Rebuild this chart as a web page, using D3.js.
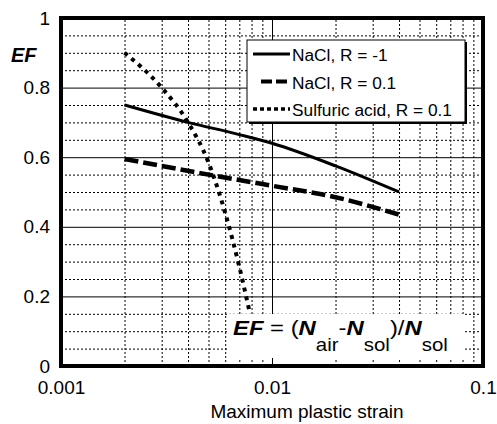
<!DOCTYPE html>
<html>
<head>
<meta charset="utf-8">
<script src="https://cdnjs.cloudflare.com/ajax/libs/d3/7.8.5/d3.min.js"></script>
<style>
  body { margin: 0; background: #fff; }
  text { font-family: "Liberation Sans", Arial, sans-serif; fill: #000; }
</style>
</head>
<body>
<div id="chart"></div>
<script>
// series
var strainNaclA = [0.002, 0.004, 0.007, 0.01, 0.02, 0.04];
var efNaclA     = [0.75, 0.70, 0.665, 0.64, 0.575, 0.50];
var strainNaclB = [0.002, 0.005, 0.01, 0.02, 0.04];
var efNaclB     = [0.595, 0.55, 0.518, 0.485, 0.435];
var strainAcid  = [0.002, 0.003, 0.004, 0.005, 0.006, 0.007, 0.0078];
var efAcid      = [0.90, 0.80, 0.70, 0.585, 0.44, 0.285, 0.16];

var legendNames = ["NaCl, R = -1", "NaCl, R = 0.1", "Sulfuric acid, R = 0.1"];
var xTickValues = [0.001, 0.01, 0.1];
var xTickLabels = ["0.001", "0.01", "0.1"];
var yTickValues = [0, 0.2, 0.4, 0.6, 0.8, 1];
var yTickLabels = ["0", "0.2", "0.4", "0.6", "0.8", "1"];

var w = 497, h = 424,
    marginLeft = 61, marginTop = 18, marginRight = 14, marginBottom = 58,
    cw = w - marginLeft - marginRight, ch = h - marginTop - marginBottom;

var svg = d3.select("#chart").append("svg")
    .attr("width", w).attr("height", h);
var g = svg.append("g")
    .attr("transform", "translate(" + marginLeft + "," + marginTop + ")");

var xScale = d3.scaleLog().domain([0.001, 0.1]).range([0, cw]);
var yScale = d3.scaleLinear().domain([0, 1]).range([ch, 0]);

// minor grid
var xMinor = [];
[0.001, 0.01].forEach(function(d) {
  for (var k = 2; k <= 9; k++) xMinor.push(d * k);
});
var yMinor = d3.range(1, 20).filter(function(k) { return k % 4 != 0; })
    .map(function(k) { return k * 0.05; });

function dotted(s) {
  s.select(".domain").remove();
  s.selectAll("line").attr("stroke", "#000").attr("stroke-width", 1).attr("stroke-dasharray", "2,2");
}
function solid(s) {
  s.select(".domain").remove();
  s.selectAll("line").attr("stroke", "#000").attr("stroke-width", 1);
}

g.append("g")
    .attr("transform", "translate(0," + ch + ")")
    .call(d3.axisBottom(xScale).tickValues(xMinor).tickSize(-ch).tickFormat(""))
    .call(dotted);
g.append("g")
    .call(d3.axisLeft(yScale).tickValues(yMinor).tickSize(-cw).tickFormat(""))
    .call(dotted);

// major grid
g.append("g")
    .attr("transform", "translate(0," + ch + ")")
    .call(d3.axisBottom(xScale).tickValues([0.01]).tickSize(-ch).tickFormat(""))
    .call(solid);
g.append("g")
    .call(d3.axisLeft(yScale).tickValues([0.2, 0.4, 0.6, 0.8]).tickSize(-cw).tickFormat(""))
    .call(solid);

// series
var line = d3.line()
    .x(function(d) { return xScale(d[0]); })
    .y(function(d) { return yScale(d[1]); })
    .curve(d3.curveMonotoneX);

var series = [
  { x: strainNaclA, y: efNaclA, dash: null, width: 3 },
  { x: strainNaclB, y: efNaclB, dash: "14,5", width: 4.5 },
  { x: strainAcid,  y: efAcid,  dash: "4,5", width: 4 }
];

series.forEach(function(s) {
  var pts = d3.zip(s.x, s.y);
  g.append("path")
      .datum(pts)
      .attr("d", line)
      .attr("fill", "none")
      .attr("stroke", "#000")
      .attr("stroke-width", s.width)
      .attr("stroke-dasharray", s.dash);
});

// formula box
g.append("rect")
    .attr("x", 167).attr("y", 296)
    .attr("width", 237).attr("height", 44)
    .attr("fill", "#fff");
var fx0 = 172;
var formula = g.append("text")
    .attr("x", fx0).attr("y", 317)
    .attr("font-size", 21);
var parts = [
  { t: "EF", b: true, i: true },
  { t: " = (" },
  { t: "N", b: true, i: true },
  { t: "air", sub: true },
  { t: "-" },
  { t: "N", b: true, i: true },
  { t: "sol", sub: true },
  { t: ")/" },
  { t: "N", b: true, i: true },
  { t: "sol", sub: true }
];
var down = false;
parts.forEach(function(p) {
  var ts = formula.append("tspan").text(p.t);
  if (p.b) ts.attr("font-weight", "bold");
  if (p.i) ts.attr("font-style", "italic");
  if (p.sub) { ts.attr("font-size", 18).attr("dy", 16); down = true; }
  else if (down) { ts.attr("dy", -16); down = false; }
});
var fw = formula.node().getComputedTextLength();
var sx = 215 / fw;
formula.attr("transform", "translate(" + fx0 + ",0) scale(" + sx + ",1) translate(" + (-fx0) + ",0)");

// frame
g.append("rect")
    .attr("width", cw).attr("height", ch)
    .attr("fill", "none").attr("stroke", "#000").attr("stroke-width", 4);

// axis labels
var xAxis = d3.axisBottom(xScale).tickValues(xTickValues).tickSize(0).tickPadding(0)
    .tickFormat(function(d, i) { return xTickLabels[i]; });
g.append("g")
    .attr("transform", "translate(0," + (ch + 14) + ")")
    .call(xAxis)
    .call(function(s) {
      s.select(".domain").remove();
      s.selectAll("text").attr("font-size", 19).attr("font-family", "Liberation Sans, Arial, sans-serif").attr("fill", "#000");
    });

var yAxis = d3.axisLeft(yScale).tickValues(yTickValues).tickSize(0).tickPadding(11)
    .tickFormat(function(d, i) { return yTickLabels[i]; });
g.append("g")
    .call(yAxis)
    .call(function(s) {
      s.select(".domain").remove();
      s.selectAll("text").attr("font-size", 19).attr("font-family", "Liberation Sans, Arial, sans-serif").attr("fill", "#000");
    });

svg.append("text")
    .attr("x", 307).attr("y", 418)
    .attr("text-anchor", "middle")
    .attr("font-size", 19)
    .text("Maximum plastic strain");

svg.append("text")
    .attr("x", 11).attr("y", 62)
    .attr("font-size", 20).attr("font-weight", "bold").attr("font-style", "italic")
    .text("EF");

// legend
var lg = svg.append("g").attr("transform", "translate(247,40)");
lg.append("rect").attr("x", 2).attr("y", 2).attr("width", 218).attr("height", 82).attr("fill", "#000");
lg.append("rect").attr("x", 0).attr("y", 0).attr("width", 218).attr("height", 82)
    .attr("fill", "#fff").attr("stroke", "#000").attr("stroke-width", 1);
legendNames.forEach(function(name, i) {
  var yy = 14 + i * 27.5;
  lg.append("line")
      .attr("x1", i == 1 ? 14 : 6).attr("x2", 43)
      .attr("y1", yy).attr("y2", yy)
      .attr("stroke", "#000")
      .attr("stroke-width", i == 2 ? 3.5 : (i == 1 ? 4 : 3))
      .attr("stroke-dasharray", i == 1 ? "11,4" : (i == 2 ? "4,3" : null));
  lg.append("text")
      .attr("x", 45).attr("y", yy + 7)
      .attr("font-size", 17.3)
      .text(name);
});
</script>
</body>
</html>
